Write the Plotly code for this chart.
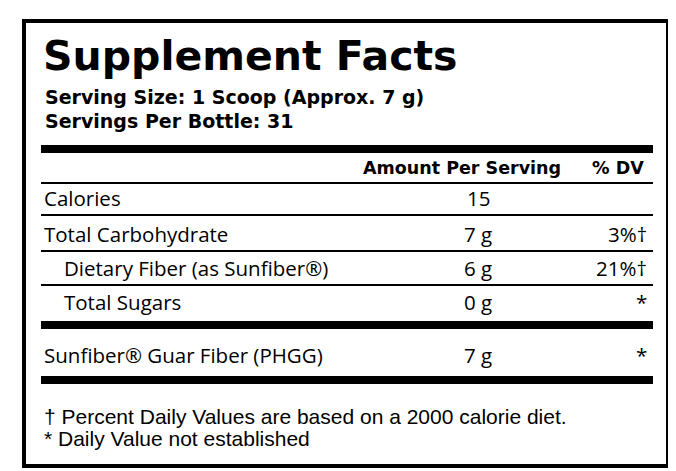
import plotly.graph_objects as go

row_labels = ["Calories", "Total Carbohydrate", "Dietary Fiber (as Sunfiber®)", "Total Sugars"]
row_indent = [0, 0, 1, 1]
row_amounts = ["15", "7 g", "6 g", "0 g"]
row_dv = ["", "3%†", "21%†", "*"]
extra_label = "Sunfiber® Guar Fiber (PHGG)"
extra_amount = "7 g"
extra_dv = "*"
footnotes = ["† Percent Daily Values are based on a 2000 calorie diet.",
             "* Daily Value not established"]

W, H = 676, 471
L, R = 33, 645
fig = go.Figure()
shapes = []
ann = []

def text(x, y, s, size, anchor="left", bold=False, font="Open Sans"):
    ann.append(dict(x=x, y=y, text=("<b>%s</b>" % s) if bold else s, showarrow=False,
                    xanchor=anchor, yanchor="middle",
                    font=dict(size=size, color="black", family=font)))

def hline(y, w):
    shapes.append(dict(type="line", x0=L, x1=R, y0=y, y1=y, line=dict(color="black", width=w)))

shapes.append(dict(type="rect", x0=16, x1=660, y0=13, y1=458, line=dict(color="black", width=4)))

text(L, 48, "Supplement Facts", 41, bold=True, font="DejaVu Sans")
text(L + 2, 89, "Serving Size: 1 Scoop (Approx. 7 g)", 19, bold=True, font="DejaVu Sans")
text(L + 2, 113, "Servings Per Bottle: 31", 19, bold=True, font="DejaVu Sans")
hline(141, 8)
text(555, 160, "Amount Per Serving", 17.5, anchor="right", bold=True, font="DejaVu Sans")
text(638, 160, "% DV", 17.5, anchor="right", bold=True, font="DejaVu Sans")
hline(175, 2)

ys = [190, 226, 260, 294]
for i, lab in enumerate(row_labels):
    y = ys[i]
    text(L + 1 + 20 * row_indent[i], y, lab, 20.5)
    text(470, y, row_amounts[i], 20.5, anchor="center")
    text(641, y, row_dv[i], 20.5, anchor="right")
    if i < len(row_labels) - 1:
        hline(y + 17, 2)
hline(317, 8)
text(L + 1, 347, extra_label, 20.5)
text(470, 347, extra_amount, 20.5, anchor="center")
text(641, 347, extra_dv, 20.5, anchor="right")
hline(372, 8)
text(L + 1, 408, footnotes[0], 21, font="Liberation Sans")
text(L + 1, 430, footnotes[1], 21, font="Liberation Sans")

fig.update_layout(width=W, height=H, margin=dict(l=0, r=0, t=0, b=0),
                  plot_bgcolor="white", paper_bgcolor="white",
                  shapes=shapes, annotations=ann, showlegend=False,
                  xaxis=dict(range=[0, W], visible=False, fixedrange=True),
                  yaxis=dict(range=[H, 0], visible=False, fixedrange=True))
fig.write_html("out.html")
